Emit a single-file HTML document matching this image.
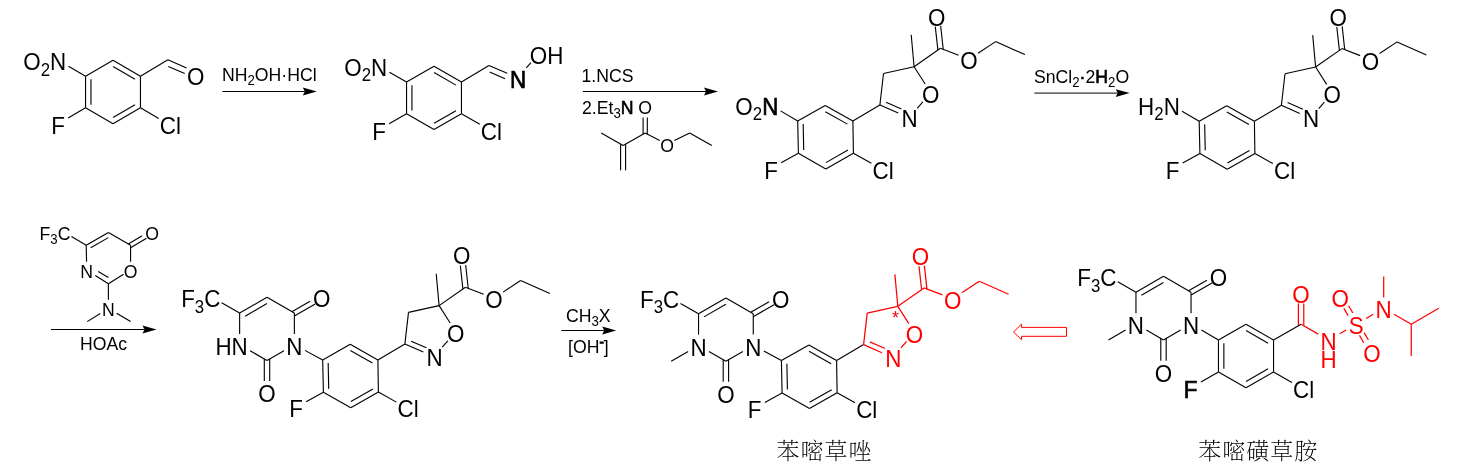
<!DOCTYPE html>
<html lang="zh">
<head>
<meta charset="utf-8">
<title>Reaction scheme</title>
<style>
html,body{margin:0;padding:0;background:#fff;}
body{width:1459px;height:472px;overflow:hidden;}
svg{display:block;will-change:transform;font-family:"Liberation Sans","Noto Sans CJK SC",sans-serif;}
svg line{stroke-linecap:butt;}
</style>
</head>
<body>
<svg width="1459" height="472" viewBox="0 0 1459 472">
<rect width="1459" height="472" fill="#fff"/>
<line x1="113" y1="60.3" x2="140.45" y2="76.15" stroke="#000" stroke-width="1.12"/>
<line x1="113.07" y1="66.58" x2="134.98" y2="79.23" stroke="#000" stroke-width="1.12"/>
<line x1="140.45" y1="76.15" x2="140.45" y2="107.85" stroke="#000" stroke-width="1.12"/>
<line x1="140.45" y1="107.85" x2="113" y2="123.7" stroke="#000" stroke-width="1.12"/>
<line x1="134.98" y1="104.77" x2="113.07" y2="117.42" stroke="#000" stroke-width="1.12"/>
<line x1="113" y1="123.7" x2="85.55" y2="107.85" stroke="#000" stroke-width="1.12"/>
<line x1="85.55" y1="107.85" x2="85.55" y2="76.15" stroke="#000" stroke-width="1.12"/>
<line x1="90.95" y1="104.65" x2="90.95" y2="79.35" stroke="#000" stroke-width="1.12"/>
<line x1="85.55" y1="76.15" x2="113" y2="60.3" stroke="#000" stroke-width="1.12"/>
<line x1="85.55" y1="76.15" x2="68.49" y2="66.3" stroke="#000" stroke-width="1.12"/>
<line x1="85.55" y1="107.85" x2="68.14" y2="117.9" stroke="#000" stroke-width="1.12"/>
<line x1="140.45" y1="107.85" x2="158.73" y2="118.4" stroke="#000" stroke-width="1.12"/>
<line x1="140.45" y1="76.15" x2="167.91" y2="59.7" stroke="#000" stroke-width="1.12"/>
<text transform="translate(66.18 70.42) scale(1.0 1.045)" font-size="22.4" fill="#000" text-anchor="end">O<tspan font-size="16.8" dy="4.93">2</tspan><tspan dy="-4.93">N</tspan></text>
<text transform="translate(51.25 133.82) scale(1.0 1.045)" font-size="22.4" fill="#000" text-anchor="start">F</text>
<text transform="translate(159.82 133.82) scale(1.0 1.045)" font-size="22.4" fill="#000" text-anchor="start">Cl</text>
<line x1="167.91" y1="59.7" x2="186.61" y2="67.9" stroke="#000" stroke-width="1.12"/>
<line x1="168.31" y1="66.6" x2="184.71" y2="73.5" stroke="#000" stroke-width="1.12"/>
<text transform="translate(186.89 84.92) scale(1.0 1.045)" font-size="22.4" fill="#000" text-anchor="start">O</text>
<line x1="434" y1="66.2" x2="461.45" y2="82.05" stroke="#000" stroke-width="1.12"/>
<line x1="434.07" y1="72.48" x2="455.98" y2="85.13" stroke="#000" stroke-width="1.12"/>
<line x1="461.45" y1="82.05" x2="461.45" y2="113.75" stroke="#000" stroke-width="1.12"/>
<line x1="461.45" y1="113.75" x2="434" y2="129.6" stroke="#000" stroke-width="1.12"/>
<line x1="455.98" y1="110.67" x2="434.07" y2="123.32" stroke="#000" stroke-width="1.12"/>
<line x1="434" y1="129.6" x2="406.55" y2="113.75" stroke="#000" stroke-width="1.12"/>
<line x1="406.55" y1="113.75" x2="406.55" y2="82.05" stroke="#000" stroke-width="1.12"/>
<line x1="411.95" y1="110.55" x2="411.95" y2="85.25" stroke="#000" stroke-width="1.12"/>
<line x1="406.55" y1="82.05" x2="434" y2="66.2" stroke="#000" stroke-width="1.12"/>
<line x1="406.55" y1="82.05" x2="389.49" y2="72.2" stroke="#000" stroke-width="1.12"/>
<line x1="406.55" y1="113.75" x2="389.14" y2="123.8" stroke="#000" stroke-width="1.12"/>
<line x1="461.45" y1="113.75" x2="479.73" y2="124.3" stroke="#000" stroke-width="1.12"/>
<line x1="461.45" y1="82.05" x2="488.91" y2="65.6" stroke="#000" stroke-width="1.12"/>
<text transform="translate(387.18 76.32) scale(1.0 1.045)" font-size="22.4" fill="#000" text-anchor="end">O<tspan font-size="16.8" dy="4.93">2</tspan><tspan dy="-4.93">N</tspan></text>
<text transform="translate(372.25 139.72) scale(1.0 1.045)" font-size="22.4" fill="#000" text-anchor="start">F</text>
<text transform="translate(480.82 139.72) scale(1.0 1.045)" font-size="22.4" fill="#000" text-anchor="start">Cl</text>
<line x1="488.91" y1="65.6" x2="507.21" y2="73.2" stroke="#000" stroke-width="1.12"/>
<line x1="489.61" y1="71.9" x2="505.01" y2="78.8" stroke="#000" stroke-width="1.12"/>
<line x1="526.31" y1="67.98" x2="530.94" y2="62.67" stroke="#000" stroke-width="1.12"/>
<text transform="translate(510.01 87.52) scale(1.0 1.045)" font-size="22.4" fill="#000" text-anchor="start"><tspan stroke="#000" stroke-width="0.7">N</tspan></text>
<text transform="translate(529.79 64.12) scale(1.0 1.045)" font-size="22.4" fill="#000" text-anchor="start">OH</text>
<line x1="601.2" y1="132.9" x2="623.1" y2="145.6" stroke="#000" stroke-width="1.12"/>
<line x1="625.6" y1="144.15" x2="625.6" y2="170.3" stroke="#000" stroke-width="1.12"/>
<line x1="620.6" y1="144.15" x2="620.6" y2="170.3" stroke="#000" stroke-width="1.12"/>
<line x1="623.1" y1="145.6" x2="645.2" y2="133" stroke="#000" stroke-width="1.12"/>
<line x1="643.1" y1="134.22" x2="643.1" y2="117.6" stroke="#000" stroke-width="1.12"/>
<line x1="647.3" y1="134.22" x2="647.3" y2="117.6" stroke="#000" stroke-width="1.12"/>
<line x1="645.2" y1="133" x2="659.67" y2="140.43" stroke="#000" stroke-width="1.12"/>
<line x1="674.38" y1="140.53" x2="689.7" y2="132.9" stroke="#000" stroke-width="1.12"/>
<line x1="689.7" y1="132.9" x2="711.8" y2="145.6" stroke="#000" stroke-width="1.12"/>
<text transform="translate(638.33 113.97) scale(1.0 1.045)" font-size="17.65" fill="#000" text-anchor="start">O</text>
<text transform="translate(660.13 152.17) scale(1.0 1.045)" font-size="17.65" fill="#000" text-anchor="start">O</text>
<line x1="825.2" y1="105.4" x2="852.9" y2="121" stroke="#000" stroke-width="1.12"/>
<line x1="825.34" y1="111.68" x2="847.46" y2="124.13" stroke="#000" stroke-width="1.12"/>
<line x1="852.9" y1="121" x2="853.4" y2="153.2" stroke="#000" stroke-width="1.12"/>
<line x1="853.4" y1="153.2" x2="825.8" y2="168.9" stroke="#000" stroke-width="1.12"/>
<line x1="847.95" y1="150.09" x2="825.91" y2="162.62" stroke="#000" stroke-width="1.12"/>
<line x1="825.8" y1="168.9" x2="798.4" y2="153.3" stroke="#000" stroke-width="1.12"/>
<line x1="798.4" y1="153.3" x2="797.7" y2="121" stroke="#000" stroke-width="1.12"/>
<line x1="803.73" y1="149.98" x2="803.17" y2="124.08" stroke="#000" stroke-width="1.12"/>
<line x1="797.7" y1="121" x2="825.2" y2="105.4" stroke="#000" stroke-width="1.12"/>
<line x1="798.4" y1="153.3" x2="781.16" y2="162.8" stroke="#000" stroke-width="1.12"/>
<line x1="853.4" y1="153.2" x2="871.35" y2="163.23" stroke="#000" stroke-width="1.12"/>
<text transform="translate(764.16 178.52) scale(1.0 1.045)" font-size="22.4" fill="#000" text-anchor="start">F</text>
<text transform="translate(872.51 178.52) scale(1.0 1.045)" font-size="22.4" fill="#000" text-anchor="start">Cl</text>
<line x1="797.7" y1="121" x2="780.54" y2="110.89" stroke="#000" stroke-width="1.12"/>
<text transform="translate(778.29 114.92) scale(1.0 1.045)" font-size="22.4" fill="#000" text-anchor="end">O<tspan font-size="16.8" dy="4.93">2</tspan><tspan dy="-4.93" stroke="#000" stroke-width="0.6">N</tspan></text>
<line x1="852.9" y1="121" x2="879.9" y2="105" stroke="#000" stroke-width="1.12"/>
<line x1="879.9" y1="105" x2="898.3" y2="113.1" stroke="#000" stroke-width="1.12"/>
<line x1="886.1" y1="102.3" x2="901.4" y2="108.9" stroke="#000" stroke-width="1.12"/>
<line x1="917.21" y1="108.28" x2="922.86" y2="101.89" stroke="#000" stroke-width="1.12"/>
<line x1="925.16" y1="84.05" x2="914.1" y2="66.7" stroke="#000" stroke-width="1.12"/>
<line x1="914.1" y1="66.7" x2="883.5" y2="73.5" stroke="#000" stroke-width="1.12"/>
<line x1="883.5" y1="73.5" x2="879.9" y2="105" stroke="#000" stroke-width="1.12"/>
<line x1="914.1" y1="66.7" x2="911.2" y2="34.8" stroke="#000" stroke-width="1.12"/>
<line x1="937.89" y1="50.15" x2="935.31" y2="26.63" stroke="#000" stroke-width="1.12"/>
<line x1="943.25" y1="49.56" x2="940.68" y2="26.04" stroke="#000" stroke-width="1.12"/>
<line x1="914.1" y1="66.7" x2="940.4" y2="48.3" stroke="#000" stroke-width="1.12"/>
<line x1="940.4" y1="48.3" x2="958.64" y2="55.34" stroke="#000" stroke-width="1.12"/>
<line x1="978.07" y1="53.22" x2="995.6" y2="41.6" stroke="#000" stroke-width="1.12"/>
<line x1="995.6" y1="41.6" x2="1024.9" y2="54.6" stroke="#000" stroke-width="1.12"/>
<text transform="translate(901.51 127.02) scale(1.0 1.045)" font-size="22.4" fill="#000" text-anchor="start">N</text>
<text transform="translate(922.09 103.02) scale(1.0 1.045)" font-size="22.4" fill="#000" text-anchor="start">O</text>
<text transform="translate(928.09 25.52) scale(1.0 1.045)" font-size="22.4" fill="#000" text-anchor="start">O</text>
<text transform="translate(960.19 69.42) scale(1.0 1.045)" font-size="22.4" fill="#000" text-anchor="start">O</text>
<line x1="1226.7" y1="105.7" x2="1254.4" y2="121.3" stroke="#000" stroke-width="1.12"/>
<line x1="1226.84" y1="111.98" x2="1248.96" y2="124.43" stroke="#000" stroke-width="1.12"/>
<line x1="1254.4" y1="121.3" x2="1254.9" y2="153.5" stroke="#000" stroke-width="1.12"/>
<line x1="1254.9" y1="153.5" x2="1227.3" y2="169.2" stroke="#000" stroke-width="1.12"/>
<line x1="1249.45" y1="150.39" x2="1227.41" y2="162.92" stroke="#000" stroke-width="1.12"/>
<line x1="1227.3" y1="169.2" x2="1199.9" y2="153.6" stroke="#000" stroke-width="1.12"/>
<line x1="1199.9" y1="153.6" x2="1199.2" y2="121.3" stroke="#000" stroke-width="1.12"/>
<line x1="1205.23" y1="150.28" x2="1204.67" y2="124.38" stroke="#000" stroke-width="1.12"/>
<line x1="1199.2" y1="121.3" x2="1226.7" y2="105.7" stroke="#000" stroke-width="1.12"/>
<line x1="1199.9" y1="153.6" x2="1182.66" y2="163.1" stroke="#000" stroke-width="1.12"/>
<line x1="1254.9" y1="153.5" x2="1272.85" y2="163.53" stroke="#000" stroke-width="1.12"/>
<text transform="translate(1165.66 178.82) scale(1.0 1.045)" font-size="22.4" fill="#000" text-anchor="start">F</text>
<text transform="translate(1274.01 178.82) scale(1.0 1.045)" font-size="22.4" fill="#000" text-anchor="start">Cl</text>
<line x1="1199.2" y1="121.3" x2="1182.04" y2="111.19" stroke="#000" stroke-width="1.12"/>
<text transform="translate(1179.79 115.22) scale(1.0 1.045)" font-size="22.4" fill="#000" text-anchor="end">H<tspan font-size="16.8" dy="4.93">2</tspan><tspan dy="-4.93">N</tspan></text>
<line x1="1254.4" y1="121.3" x2="1281.4" y2="105.3" stroke="#000" stroke-width="1.12"/>
<line x1="1281.4" y1="105.3" x2="1299.8" y2="113.4" stroke="#000" stroke-width="1.12"/>
<line x1="1287.6" y1="102.6" x2="1302.9" y2="109.2" stroke="#000" stroke-width="1.12"/>
<line x1="1318.71" y1="108.58" x2="1324.36" y2="102.19" stroke="#000" stroke-width="1.12"/>
<line x1="1326.66" y1="84.35" x2="1315.6" y2="67" stroke="#000" stroke-width="1.12"/>
<line x1="1315.6" y1="67" x2="1285" y2="73.8" stroke="#000" stroke-width="1.12"/>
<line x1="1285" y1="73.8" x2="1281.4" y2="105.3" stroke="#000" stroke-width="1.12"/>
<line x1="1315.6" y1="67" x2="1312.7" y2="35.1" stroke="#000" stroke-width="1.12"/>
<line x1="1339.39" y1="50.45" x2="1336.81" y2="26.93" stroke="#000" stroke-width="1.12"/>
<line x1="1344.75" y1="49.86" x2="1342.18" y2="26.34" stroke="#000" stroke-width="1.12"/>
<line x1="1315.6" y1="67" x2="1341.9" y2="48.6" stroke="#000" stroke-width="1.12"/>
<line x1="1341.9" y1="48.6" x2="1360.14" y2="55.64" stroke="#000" stroke-width="1.12"/>
<line x1="1379.57" y1="53.52" x2="1397.1" y2="41.9" stroke="#000" stroke-width="1.12"/>
<line x1="1397.1" y1="41.9" x2="1426.4" y2="54.9" stroke="#000" stroke-width="1.12"/>
<text transform="translate(1303.01 127.32) scale(1.0 1.045)" font-size="22.4" fill="#000" text-anchor="start">N</text>
<text transform="translate(1323.59 103.32) scale(1.0 1.045)" font-size="22.4" fill="#000" text-anchor="start">O</text>
<text transform="translate(1329.59 25.82) scale(1.0 1.045)" font-size="22.4" fill="#000" text-anchor="start">O</text>
<text transform="translate(1361.69 69.72) scale(1.0 1.045)" font-size="22.4" fill="#000" text-anchor="start">O</text>
<line x1="350.2" y1="344.3" x2="377.9" y2="359.9" stroke="#000" stroke-width="1.12"/>
<line x1="350.34" y1="350.58" x2="372.46" y2="363.03" stroke="#000" stroke-width="1.12"/>
<line x1="377.9" y1="359.9" x2="378.4" y2="392.1" stroke="#000" stroke-width="1.12"/>
<line x1="378.4" y1="392.1" x2="350.8" y2="407.8" stroke="#000" stroke-width="1.12"/>
<line x1="372.95" y1="388.99" x2="350.91" y2="401.52" stroke="#000" stroke-width="1.12"/>
<line x1="350.8" y1="407.8" x2="323.4" y2="392.2" stroke="#000" stroke-width="1.12"/>
<line x1="323.4" y1="392.2" x2="322.7" y2="359.9" stroke="#000" stroke-width="1.12"/>
<line x1="328.73" y1="388.88" x2="328.17" y2="362.98" stroke="#000" stroke-width="1.12"/>
<line x1="322.7" y1="359.9" x2="350.2" y2="344.3" stroke="#000" stroke-width="1.12"/>
<line x1="323.4" y1="392.2" x2="306.16" y2="401.7" stroke="#000" stroke-width="1.12"/>
<line x1="378.4" y1="392.1" x2="396.35" y2="402.13" stroke="#000" stroke-width="1.12"/>
<text transform="translate(289.16 417.42) scale(1.0 1.045)" font-size="22.4" fill="#000" text-anchor="start">F</text>
<text transform="translate(397.51 417.42) scale(1.0 1.045)" font-size="22.4" fill="#000" text-anchor="start">Cl</text>
<line x1="377.9" y1="359.9" x2="404.9" y2="343.9" stroke="#000" stroke-width="1.12"/>
<line x1="404.9" y1="343.9" x2="423.3" y2="352" stroke="#000" stroke-width="1.12"/>
<line x1="411.1" y1="341.2" x2="426.4" y2="347.8" stroke="#000" stroke-width="1.12"/>
<line x1="442.21" y1="347.18" x2="447.86" y2="340.79" stroke="#000" stroke-width="1.12"/>
<line x1="450.16" y1="322.95" x2="439.1" y2="305.6" stroke="#000" stroke-width="1.12"/>
<line x1="439.1" y1="305.6" x2="408.5" y2="312.4" stroke="#000" stroke-width="1.12"/>
<line x1="408.5" y1="312.4" x2="404.9" y2="343.9" stroke="#000" stroke-width="1.12"/>
<line x1="439.1" y1="305.6" x2="436.2" y2="273.7" stroke="#000" stroke-width="1.12"/>
<line x1="462.89" y1="289.05" x2="460.31" y2="265.53" stroke="#000" stroke-width="1.12"/>
<line x1="468.25" y1="288.46" x2="465.68" y2="264.94" stroke="#000" stroke-width="1.12"/>
<line x1="439.1" y1="305.6" x2="465.4" y2="287.2" stroke="#000" stroke-width="1.12"/>
<line x1="465.4" y1="287.2" x2="483.64" y2="294.24" stroke="#000" stroke-width="1.12"/>
<line x1="503.07" y1="292.12" x2="520.6" y2="280.5" stroke="#000" stroke-width="1.12"/>
<line x1="520.6" y1="280.5" x2="549.9" y2="293.5" stroke="#000" stroke-width="1.12"/>
<text transform="translate(426.51 365.92) scale(1.0 1.045)" font-size="22.4" fill="#000" text-anchor="start">N</text>
<text transform="translate(447.09 341.92) scale(1.0 1.045)" font-size="22.4" fill="#000" text-anchor="start">O</text>
<text transform="translate(453.09 264.42) scale(1.0 1.045)" font-size="22.4" fill="#000" text-anchor="start">O</text>
<text transform="translate(485.19 308.32) scale(1.0 1.045)" font-size="22.4" fill="#000" text-anchor="start">O</text>
<line x1="239.63" y1="313.1" x2="267" y2="297.3" stroke="#000" stroke-width="1.12"/>
<line x1="245.11" y1="316.18" x2="266.93" y2="303.58" stroke="#000" stroke-width="1.12"/>
<line x1="291.86" y1="311.66" x2="310.09" y2="301.14" stroke="#000" stroke-width="1.12"/>
<line x1="294.36" y1="315.99" x2="315.19" y2="303.97" stroke="#000" stroke-width="1.12"/>
<line x1="267" y1="297.3" x2="294.37" y2="313.1" stroke="#000" stroke-width="1.12"/>
<line x1="294.37" y1="313.1" x2="294.37" y2="333.9" stroke="#000" stroke-width="1.12"/>
<line x1="269.7" y1="358.93" x2="269.7" y2="381.1" stroke="#000" stroke-width="1.12"/>
<line x1="264.3" y1="358.93" x2="264.3" y2="381.1" stroke="#000" stroke-width="1.12"/>
<line x1="283.97" y1="350.7" x2="267" y2="360.5" stroke="#000" stroke-width="1.12"/>
<line x1="267" y1="360.5" x2="250.03" y2="350.7" stroke="#000" stroke-width="1.12"/>
<line x1="239.63" y1="333.9" x2="239.63" y2="313.1" stroke="#000" stroke-width="1.12"/>
<line x1="239.63" y1="313.1" x2="221.62" y2="302.7" stroke="#000" stroke-width="1.12"/>
<text transform="translate(286.28 354.82) scale(1.0 1.045)" font-size="22.4" fill="#000" text-anchor="start">N</text>
<text transform="translate(247.72 354.82) scale(1.0 1.045)" font-size="22.4" fill="#000" text-anchor="end">HN</text>
<text transform="translate(313.02 307.42) scale(1.0 1.045)" font-size="22.4" fill="#000" text-anchor="start">O</text>
<text transform="translate(258.29 402.22) scale(1.0 1.045)" font-size="22.4" fill="#000" text-anchor="start">O</text>
<text transform="translate(220.36 307.42) scale(1.0 1.045)" font-size="22.4" fill="#000" text-anchor="end">F<tspan font-size="16.8" dy="4.93">3</tspan><tspan dy="-4.93">C</tspan></text>
<line x1="304.94" y1="350.37" x2="322.7" y2="359.9" stroke="#000" stroke-width="1.12"/>
<line x1="808.9" y1="345" x2="836.6" y2="360.6" stroke="#000" stroke-width="1.12"/>
<line x1="809.04" y1="351.28" x2="831.16" y2="363.73" stroke="#000" stroke-width="1.12"/>
<line x1="836.6" y1="360.6" x2="837.1" y2="392.8" stroke="#000" stroke-width="1.12"/>
<line x1="837.1" y1="392.8" x2="809.5" y2="408.5" stroke="#000" stroke-width="1.12"/>
<line x1="831.65" y1="389.69" x2="809.61" y2="402.22" stroke="#000" stroke-width="1.12"/>
<line x1="809.5" y1="408.5" x2="782.1" y2="392.9" stroke="#000" stroke-width="1.12"/>
<line x1="782.1" y1="392.9" x2="781.4" y2="360.6" stroke="#000" stroke-width="1.12"/>
<line x1="787.43" y1="389.58" x2="786.87" y2="363.68" stroke="#000" stroke-width="1.12"/>
<line x1="781.4" y1="360.6" x2="808.9" y2="345" stroke="#000" stroke-width="1.12"/>
<line x1="782.1" y1="392.9" x2="764.86" y2="402.4" stroke="#000" stroke-width="1.12"/>
<line x1="837.1" y1="392.8" x2="855.05" y2="402.83" stroke="#000" stroke-width="1.12"/>
<text transform="translate(747.86 418.12) scale(1.0 1.045)" font-size="22.4" fill="#000" text-anchor="start">F</text>
<text transform="translate(856.21 418.12) scale(1.0 1.045)" font-size="22.4" fill="#000" text-anchor="start">Cl</text>
<line x1="836.6" y1="360.6" x2="863.6" y2="344.6" stroke="#000" stroke-width="1.12"/>
<line x1="863.6" y1="344.6" x2="882" y2="352.7" stroke="#ff0000" stroke-width="1.25"/>
<line x1="869.8" y1="341.9" x2="885.1" y2="348.5" stroke="#ff0000" stroke-width="1.25"/>
<line x1="900.91" y1="347.88" x2="906.56" y2="341.49" stroke="#ff0000" stroke-width="1.25"/>
<line x1="908.86" y1="323.65" x2="897.8" y2="306.3" stroke="#ff0000" stroke-width="1.25"/>
<line x1="897.8" y1="306.3" x2="867.2" y2="313.1" stroke="#ff0000" stroke-width="1.25"/>
<line x1="867.2" y1="313.1" x2="863.6" y2="344.6" stroke="#ff0000" stroke-width="1.25"/>
<line x1="897.8" y1="306.3" x2="894.9" y2="274.4" stroke="#ff0000" stroke-width="1.25"/>
<line x1="921.59" y1="289.75" x2="919.01" y2="266.23" stroke="#ff0000" stroke-width="1.25"/>
<line x1="926.95" y1="289.16" x2="924.38" y2="265.64" stroke="#ff0000" stroke-width="1.25"/>
<line x1="897.8" y1="306.3" x2="924.1" y2="287.9" stroke="#ff0000" stroke-width="1.25"/>
<line x1="924.1" y1="287.9" x2="942.34" y2="294.94" stroke="#ff0000" stroke-width="1.25"/>
<line x1="961.77" y1="292.82" x2="979.3" y2="281.2" stroke="#ff0000" stroke-width="1.25"/>
<line x1="979.3" y1="281.2" x2="1008.6" y2="294.2" stroke="#ff0000" stroke-width="1.25"/>
<text transform="translate(885.21 366.62) scale(1.0 1.045)" font-size="22.4" fill="#ff0000" text-anchor="start">N</text>
<text transform="translate(905.79 342.62) scale(1.0 1.045)" font-size="22.4" fill="#ff0000" text-anchor="start">O</text>
<text transform="translate(911.79 265.12) scale(1.0 1.045)" font-size="22.4" fill="#ff0000" text-anchor="start">O</text>
<text transform="translate(943.89 309.02) scale(1.0 1.045)" font-size="22.4" fill="#ff0000" text-anchor="start">O</text>
<line x1="698.53" y1="313.8" x2="725.9" y2="298" stroke="#000" stroke-width="1.12"/>
<line x1="704.01" y1="316.88" x2="725.83" y2="304.28" stroke="#000" stroke-width="1.12"/>
<line x1="750.76" y1="312.36" x2="768.99" y2="301.84" stroke="#000" stroke-width="1.12"/>
<line x1="753.26" y1="316.69" x2="774.09" y2="304.67" stroke="#000" stroke-width="1.12"/>
<line x1="725.9" y1="298" x2="753.27" y2="313.8" stroke="#000" stroke-width="1.12"/>
<line x1="753.27" y1="313.8" x2="753.27" y2="334.6" stroke="#000" stroke-width="1.12"/>
<line x1="728.6" y1="359.63" x2="728.6" y2="381.8" stroke="#000" stroke-width="1.12"/>
<line x1="723.2" y1="359.63" x2="723.2" y2="381.8" stroke="#000" stroke-width="1.12"/>
<line x1="742.87" y1="351.4" x2="725.9" y2="361.2" stroke="#000" stroke-width="1.12"/>
<line x1="725.9" y1="361.2" x2="708.93" y2="351.4" stroke="#000" stroke-width="1.12"/>
<line x1="698.53" y1="334.6" x2="698.53" y2="313.8" stroke="#000" stroke-width="1.12"/>
<line x1="698.53" y1="313.8" x2="680.52" y2="303.4" stroke="#000" stroke-width="1.12"/>
<text transform="translate(745.18 355.52) scale(1.0 1.045)" font-size="22.4" fill="#000" text-anchor="start">N</text>
<text transform="translate(690.45 355.52) scale(1.0 1.045)" font-size="22.4" fill="#000" text-anchor="start">N</text>
<text transform="translate(771.92 308.12) scale(1.0 1.045)" font-size="22.4" fill="#000" text-anchor="start">O</text>
<text transform="translate(717.19 402.92) scale(1.0 1.045)" font-size="22.4" fill="#000" text-anchor="start">O</text>
<text transform="translate(679.26 308.12) scale(1.0 1.045)" font-size="22.4" fill="#000" text-anchor="end">F<tspan font-size="16.8" dy="4.93">3</tspan><tspan dy="-4.93">C</tspan></text>
<line x1="688.14" y1="351.4" x2="671.17" y2="361.2" stroke="#000" stroke-width="1.12"/>
<line x1="763.82" y1="351.1" x2="781.4" y2="360.6" stroke="#000" stroke-width="1.12"/>
<text x="895.5" y="324.2" font-size="18" fill="#ff0000" text-anchor="middle">*</text>
<line x1="1246" y1="324.2" x2="1273.54" y2="340.1" stroke="#000" stroke-width="1.12"/>
<line x1="1246.07" y1="330.48" x2="1268.07" y2="343.18" stroke="#000" stroke-width="1.12"/>
<line x1="1273.54" y1="340.1" x2="1273.54" y2="371.9" stroke="#000" stroke-width="1.12"/>
<line x1="1273.54" y1="371.9" x2="1246" y2="387.8" stroke="#000" stroke-width="1.12"/>
<line x1="1268.07" y1="368.82" x2="1246.07" y2="381.52" stroke="#000" stroke-width="1.12"/>
<line x1="1246" y1="387.8" x2="1218.46" y2="371.9" stroke="#000" stroke-width="1.12"/>
<line x1="1218.46" y1="371.9" x2="1218.46" y2="340.1" stroke="#000" stroke-width="1.12"/>
<line x1="1223.86" y1="368.7" x2="1223.86" y2="343.3" stroke="#000" stroke-width="1.12"/>
<line x1="1218.46" y1="340.1" x2="1246" y2="324.2" stroke="#000" stroke-width="1.12"/>
<line x1="1218.46" y1="371.9" x2="1200.97" y2="382" stroke="#000" stroke-width="1.12"/>
<line x1="1273.54" y1="371.9" x2="1291.9" y2="382.5" stroke="#000" stroke-width="1.12"/>
<text transform="translate(1183.68 397.92) scale(1.0 1.045)" font-size="22.4" fill="#000" text-anchor="start"><tspan stroke="#000" stroke-width="0.7">F</tspan></text>
<text transform="translate(1292.99 397.92) scale(1.0 1.045)" font-size="22.4" fill="#000" text-anchor="start">Cl</text>
<line x1="1135.96" y1="292.2" x2="1163.5" y2="276.3" stroke="#000" stroke-width="1.12"/>
<line x1="1141.43" y1="295.28" x2="1163.43" y2="282.58" stroke="#000" stroke-width="1.12"/>
<line x1="1188.53" y1="290.76" x2="1206.94" y2="280.14" stroke="#000" stroke-width="1.12"/>
<line x1="1191.03" y1="295.09" x2="1212.03" y2="282.97" stroke="#000" stroke-width="1.12"/>
<line x1="1163.5" y1="276.3" x2="1191.04" y2="292.2" stroke="#000" stroke-width="1.12"/>
<line x1="1191.04" y1="292.2" x2="1191.04" y2="313.2" stroke="#000" stroke-width="1.12"/>
<line x1="1166.2" y1="338.33" x2="1166.2" y2="360.7" stroke="#000" stroke-width="1.12"/>
<line x1="1160.8" y1="338.33" x2="1160.8" y2="360.7" stroke="#000" stroke-width="1.12"/>
<line x1="1180.65" y1="330" x2="1163.5" y2="339.9" stroke="#000" stroke-width="1.12"/>
<line x1="1163.5" y1="339.9" x2="1146.35" y2="330" stroke="#000" stroke-width="1.12"/>
<line x1="1135.96" y1="313.2" x2="1135.96" y2="292.2" stroke="#000" stroke-width="1.12"/>
<line x1="1135.96" y1="292.2" x2="1117.78" y2="281.7" stroke="#000" stroke-width="1.12"/>
<text transform="translate(1182.95 334.12) scale(1.0 1.045)" font-size="22.4" fill="#000" text-anchor="start">N</text>
<text transform="translate(1127.87 334.12) scale(1.0 1.045)" font-size="22.4" fill="#000" text-anchor="start">N</text>
<text transform="translate(1209.86 286.42) scale(1.0 1.045)" font-size="22.4" fill="#000" text-anchor="start">O</text>
<text transform="translate(1154.79 381.82) scale(1.0 1.045)" font-size="22.4" fill="#000" text-anchor="start">O</text>
<text transform="translate(1116.51 286.42) scale(1.0 1.045)" font-size="22.4" fill="#000" text-anchor="end">F<tspan font-size="16.8" dy="4.93">3</tspan><tspan dy="-4.93">C</tspan></text>
<line x1="1125.57" y1="330" x2="1108.42" y2="339.9" stroke="#000" stroke-width="1.12"/>
<line x1="1201.39" y1="330.08" x2="1218.46" y2="340.1" stroke="#000" stroke-width="1.12"/>
<line x1="1298.38" y1="325.77" x2="1298.38" y2="303.4" stroke="#ff0000" stroke-width="1.25"/>
<line x1="1303.78" y1="325.77" x2="1303.78" y2="303.4" stroke="#ff0000" stroke-width="1.25"/>
<line x1="1273.54" y1="340.1" x2="1301.08" y2="324.2" stroke="#000" stroke-width="1.12"/>
<line x1="1301.08" y1="324.2" x2="1318.23" y2="334.1" stroke="#ff0000" stroke-width="1.25"/>
<line x1="1339.7" y1="333.7" x2="1346.2" y2="329.95" stroke="#ff0000" stroke-width="1.25"/>
<line x1="1348.17" y1="315.76" x2="1343.92" y2="308.4" stroke="#ff0000" stroke-width="1.25"/>
<line x1="1352.85" y1="313.06" x2="1348.6" y2="305.7" stroke="#ff0000" stroke-width="1.25"/>
<line x1="1364.15" y1="332.64" x2="1368.4" y2="340" stroke="#ff0000" stroke-width="1.25"/>
<line x1="1359.47" y1="335.34" x2="1363.72" y2="342.7" stroke="#ff0000" stroke-width="1.25"/>
<line x1="1366.12" y1="318.45" x2="1373.31" y2="314.3" stroke="#ff0000" stroke-width="1.25"/>
<line x1="1383.7" y1="297.5" x2="1383.7" y2="276.5" stroke="#ff0000" stroke-width="1.25"/>
<line x1="1394.09" y1="314.3" x2="1411.24" y2="324.2" stroke="#ff0000" stroke-width="1.25"/>
<line x1="1411.24" y1="324.2" x2="1438.78" y2="308.3" stroke="#ff0000" stroke-width="1.25"/>
<line x1="1411.24" y1="324.2" x2="1411.24" y2="356" stroke="#ff0000" stroke-width="1.25"/>
<text transform="translate(1292.37 302.52) scale(1.0 1.045)" font-size="22.4" fill="#ff0000" text-anchor="start">O</text>
<text transform="translate(1320.53 350.22) scale(1.0 1.045)" font-size="22.4" fill="#ff0000" text-anchor="start">N</text>
<text transform="translate(1328.62 367.62) scale(1.0 1.045)" font-size="22.4" fill="#ff0000" text-anchor="middle">H</text>
<text transform="translate(1348.69 334.32) scale(1.0 1.045)" font-size="22.4" fill="#ff0000" text-anchor="start">S</text>
<text transform="translate(1331.54 306.78) scale(1.0 1.045)" font-size="22.4" fill="#ff0000" text-anchor="start">O</text>
<text transform="translate(1363.34 361.86) scale(1.0 1.045)" font-size="22.4" fill="#ff0000" text-anchor="start">O</text>
<text transform="translate(1375.61 318.42) scale(1.0 1.045)" font-size="22.4" fill="#ff0000" text-anchor="start">N</text>
<line x1="86.23" y1="245.3" x2="108.4" y2="232.5" stroke="#000" stroke-width="1.12"/>
<line x1="90.68" y1="247.81" x2="108.35" y2="237.61" stroke="#000" stroke-width="1.12"/>
<line x1="128.34" y1="244.08" x2="142.12" y2="235.75" stroke="#000" stroke-width="1.12"/>
<line x1="130.62" y1="247.84" x2="146.53" y2="238.22" stroke="#000" stroke-width="1.12"/>
<line x1="108.4" y1="232.5" x2="130.57" y2="245.3" stroke="#000" stroke-width="1.12"/>
<line x1="130.57" y1="245.3" x2="130.57" y2="261.66" stroke="#000" stroke-width="1.12"/>
<line x1="123.57" y1="274.25" x2="108.4" y2="283.7" stroke="#000" stroke-width="1.12"/>
<line x1="95.24" y1="275.56" x2="108.4" y2="283.7" stroke="#000" stroke-width="1.12"/>
<line x1="98.2" y1="271.5" x2="108.4" y2="277.6" stroke="#000" stroke-width="1.12"/>
<line x1="86.56" y1="261.66" x2="86.23" y2="245.3" stroke="#000" stroke-width="1.12"/>
<line x1="86.23" y1="245.3" x2="71.47" y2="236.44" stroke="#000" stroke-width="1.12"/>
<line x1="108.4" y1="283.7" x2="108.4" y2="299.66" stroke="#000" stroke-width="1.12"/>
<line x1="100.27" y1="313.41" x2="87.23" y2="321.6" stroke="#000" stroke-width="1.12"/>
<line x1="116.63" y1="313.24" x2="130.57" y2="321.6" stroke="#000" stroke-width="1.12"/>
<text transform="translate(123.7 277.87) scale(1.0 1.045)" font-size="17.65" fill="#000" text-anchor="start">O</text>
<text transform="translate(80.36 278.27) scale(1.0 1.045)" font-size="17.65" fill="#000" text-anchor="start">N</text>
<text transform="translate(145.37 240.17) scale(1.0 1.045)" font-size="17.65" fill="#000" text-anchor="start">O</text>
<text transform="translate(102.03 316.27) scale(1.0 1.045)" font-size="17.65" fill="#000" text-anchor="start">N</text>
<text transform="translate(70.43 239.97) scale(1.0 1.045)" font-size="17.65" fill="#000" text-anchor="end">F<tspan font-size="13.24" dy="3.88">3</tspan><tspan dy="-3.88">C</tspan></text>
<line x1="222.4" y1="91.5" x2="304.8" y2="91.5" stroke="#000" stroke-width="1"/>
<polygon points="316.8,91.5 302.8,87.6 304.8,91.5 302.8,95.4" fill="#000"/>
<line x1="582.9" y1="91.5" x2="706" y2="91.5" stroke="#000" stroke-width="1"/>
<polygon points="718,91.5 704,87.6 706,91.5 704,95.4" fill="#000"/>
<line x1="1034.4" y1="93.1" x2="1117.7" y2="93.1" stroke="#000" stroke-width="1"/>
<polygon points="1129.7,93.1 1115.7,89.2 1117.7,93.1 1115.7,97" fill="#000"/>
<line x1="51" y1="329.5" x2="144.5" y2="329.5" stroke="#000" stroke-width="1"/>
<polygon points="156.5,329.5 142.5,325.6 144.5,329.5 142.5,333.4" fill="#000"/>
<line x1="561.2" y1="330.5" x2="604.2" y2="330.5" stroke="#000" stroke-width="1"/>
<polygon points="616.2,330.5 602.2,326.6 604.2,330.5 602.2,334.4" fill="#000"/>
<text transform="translate(222 81) scale(1.0 1.045)" font-size="17.65" fill="#000" text-anchor="start">NH<tspan font-size="13.24" dy="3.88">2</tspan><tspan dy="-3.88">OH·HCl</tspan></text>
<text transform="translate(581.5 81.9) scale(1.0 1.045)" font-size="17.65" fill="#000" text-anchor="start">1.NCS</text>
<text transform="translate(582 113.8) scale(1.0 1.045)" font-size="17.65" fill="#000" text-anchor="start">2.Et<tspan font-size="13.24" dy="3.88">3</tspan><tspan dy="-3.88" stroke="#000" stroke-width="0.6">N</tspan></text>
<text transform="translate(1034 82.9) scale(1.0 1.045)" font-size="17.65" fill="#000" text-anchor="start">SnCl<tspan font-size="13.24" dy="3.88">2</tspan><tspan dy="-3.88" stroke="#000" stroke-width="0.6">·</tspan>2<tspan stroke="#000" stroke-width="0.6">H</tspan><tspan font-size="13.24" dy="3.88">2</tspan><tspan dy="-3.88">O</tspan></text>
<text transform="translate(80 350.3) scale(1.0 1.045)" font-size="17.65" fill="#000" text-anchor="start">HOAc</text>
<text transform="translate(566 321.8) scale(1.0 1.045)" font-size="17.65" fill="#000" text-anchor="start">CH<tspan font-size="13.24" dy="3.88">3</tspan><tspan dy="-3.88">X</tspan></text>
<text transform="translate(568 353.1) scale(1.0 1.045)" font-size="17.65" fill="#000" text-anchor="start">[OH<tspan font-size="13.24" dy="-6.18" stroke="#000" stroke-width="0.9">-</tspan><tspan dy="6.18">]</tspan></text>
<polygon points="1013.5,332 1021.5,324.2 1021.5,327.4 1066.5,327.4 1066.5,336.3 1021.5,336.3 1021.5,339.7" fill="none" stroke="#ff0000" stroke-width="1"/>
<text x="776.6" y="458.6" font-size="23" fill="#000" font-family="'Liberation Serif', 'Noto Serif CJK SC', serif" font-weight="200" letter-spacing="1.0">苯嘧草唑</text>
<text x="1198.3" y="458.6" font-size="23" fill="#000" font-family="'Liberation Serif', 'Noto Serif CJK SC', serif" font-weight="200" letter-spacing="1.0">苯嘧磺草胺</text>
</svg>
</body>
</html>
